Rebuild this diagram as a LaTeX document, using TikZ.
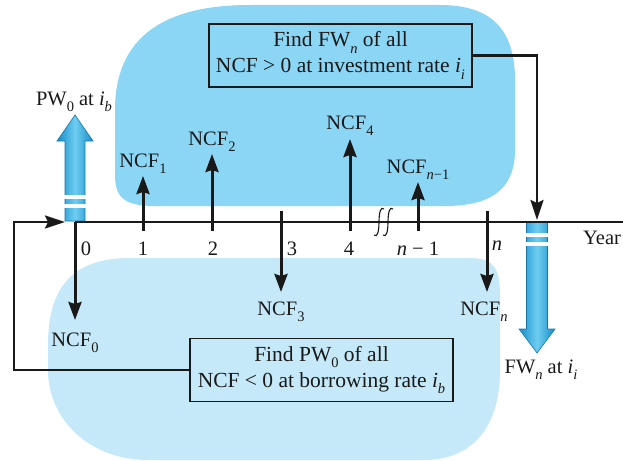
\documentclass[tikz,border=0pt]{standalone}
\usepackage{fontspec}
\setmainfont{Liberation Serif}
\usetikzlibrary{arrows.meta}
\definecolor{topblob}{RGB}{140,214,245}
\definecolor{botblob}{RGB}{197,233,248}
\definecolor{arrdark}{RGB}{22,140,200}
\definecolor{arrmid}{RGB}{110,205,240}
\definecolor{arredge}{RGB}{20,120,175}
\definecolor{ink}{RGB}{25,25,25}
\newcommand\lo[1]{\raisebox{-0.32em}{\fontsize{14.5}{14.5}\selectfont #1}}
\tikzset{
  lbl/.style={inner sep=0pt, anchor=base, font=\fontsize{20.5}{24}\selectfont, text=ink},
  flow/.style={draw=ink, line width=3pt, -{Stealth[length=18pt,width=13pt,inset=2pt]}},
  conn/.style={draw=ink, line width=2.4pt, -{Stealth[length=20pt,width=13pt,inset=3pt]}},
  axisline/.style={draw=ink, line width=1.4pt},
  infobox/.style={draw=ink, line width=1.3pt, minimum width=263pt, minimum height=63pt,
     align=center, inner sep=0pt, font=\fontsize{21.5}{26}\selectfont, text=ink},
  bigarrow/.style={draw=arredge, line width=0.6pt, left color=arrdark, right color=arrdark, middle color=arrmid},
}
\begin{document}
\begin{tikzpicture}[x=1pt,y=-1pt]
\useasboundingbox (0,0) rectangle (623,460);
% blobs
\fill[topblob] (115,175) .. controls (115,198) and (125,206) .. (155,206) -- (445,206)
  .. controls (490,206) and (515,190) .. (515,150) -- (515,80)
  .. controls (515,28) and (490,5) .. (440,5) -- (250,5)
  .. controls (160,5) and (115,40) .. (115,110) -- cycle;
\fill[botblob] (48,345) .. controls (48,290) and (70,258) .. (130,258) -- (470,258)
  .. controls (495,258) and (500,270) .. (500,295) -- (500,370)
  .. controls (500,430) and (470,460) .. (424,460) -- (148,460)
  .. controls (90,460) and (48,420) .. (48,370) -- cycle;
% boxes
\node[infobox, fill=topblob] (topbox) at (340.5,55.5) {Find FW\lo{\textit{n}} of all\\NCF > 0 at investment rate \textit{i}\lo{\textit{i}}};
\node[infobox, fill=botblob] (botbox) at (321.5,370) {Find PW\lo{0} of all\\NCF < 0 at borrowing rate \textit{i}\lo{\textit{b}}};
% big arrows
\path[bigarrow] (65,221) -- (65,141) -- (57,141) -- (75,115) -- (93,141) -- (85,141) -- (85,221) -- cycle;
\fill[white] (64,195) rectangle (86,198.5);
\fill[white] (64,204) rectangle (86,207.5);
\path[bigarrow] (526.5,222) -- (526.5,329) -- (519,329) -- (537,353) -- (555,329) -- (547.5,329) -- (547.5,222) -- cycle;
\fill[white] (525.5,233) rectangle (548.5,236.5);
\fill[white] (525.5,242) rectangle (548.5,245.5);
% coordinates on axis
\coordinate (t0) at (75,222);
\coordinate (tend) at (623,222);
\coordinate (pwleft) at (65,222);
\coordinate (fwtop) at (537,220);
\coordinate (lcorner) at (14,222);
\coordinate (a1) at (143,231);  \coordinate (h1) at (143,176);
\coordinate (a2) at (212,231);  \coordinate (h2) at (212,154);
\coordinate (a3) at (281,211);  \coordinate (h3) at (281,292);
\coordinate (a4) at (350,231);  \coordinate (h4) at (350,139);
\coordinate (a5) at (418,231);  \coordinate (h5) at (418,182);
\coordinate (a6) at (487,211);  \coordinate (h6) at (487,292);
\coordinate (h0) at (75,320);
% axis
\draw[axisline] (t0) -- (tend);
% break marks
\draw[ink, line width=1.1pt] (374,235) .. controls (377,238) and (379,232) .. (379,222) .. controls (379,212) and (381,206) .. (384,209);
\draw[ink, line width=1.1pt] (383,235) .. controls (386,238) and (388,232) .. (388,222) .. controls (388,212) and (390,206) .. (393,209);
% cash flow arrows
\draw[flow] (t0) -- (h0);
\draw[flow] (a1) -- (h1);
\draw[flow] (a2) -- (h2);
\draw[flow] (a3) -- (h3);
\draw[flow] (a4) -- (h4);
\draw[flow] (a5) -- (h5);
\draw[flow] (a6) -- (h6);
% connectors
\draw[conn] (topbox.east) -| (fwtop);
\draw[conn] (botbox.west) -| (lcorner) -- (pwleft);
% labels
\node[lbl] (l0) at (86,255) {0};
\node[lbl] (l1) at (143,255) {1};
\node[lbl] (l2) at (213,255) {2};
\node[lbl] (l3) at (292,255) {3};
\node[lbl] (l4) at (349,255) {4};
\node[lbl] (l5) at (418,255) {\textit{n} − 1};
\node[lbl] (l6) at (497,250) {\textit{n}};
\node[lbl, anchor=base west] (year) at (583,244) {Year};
\node[lbl] (n0) at (75,346) {NCF\lo{0}};
\node[lbl] (n1) at (143,167) {NCF\lo{1}};
\node[lbl] (n2) at (212,145) {NCF\lo{2}};
\node[lbl] (n3) at (281,315) {NCF\lo{3}};
\node[lbl] (n4) at (350,129) {NCF\lo{4}};
\node[lbl] (n5) at (418,173) {NCF\lo{\textit{n}−1}};
\node[lbl] (n6) at (484,315) {NCF\lo{\textit{n}}};
\node[lbl] (pw) at (74,105) {PW\lo{0} at \textit{i}\lo{\textit{b}}};
\node[lbl] (fw) at (541,373) {FW\lo{\textit{n}} at \textit{i}\lo{\textit{i}}};
\end{tikzpicture}
\end{document}
